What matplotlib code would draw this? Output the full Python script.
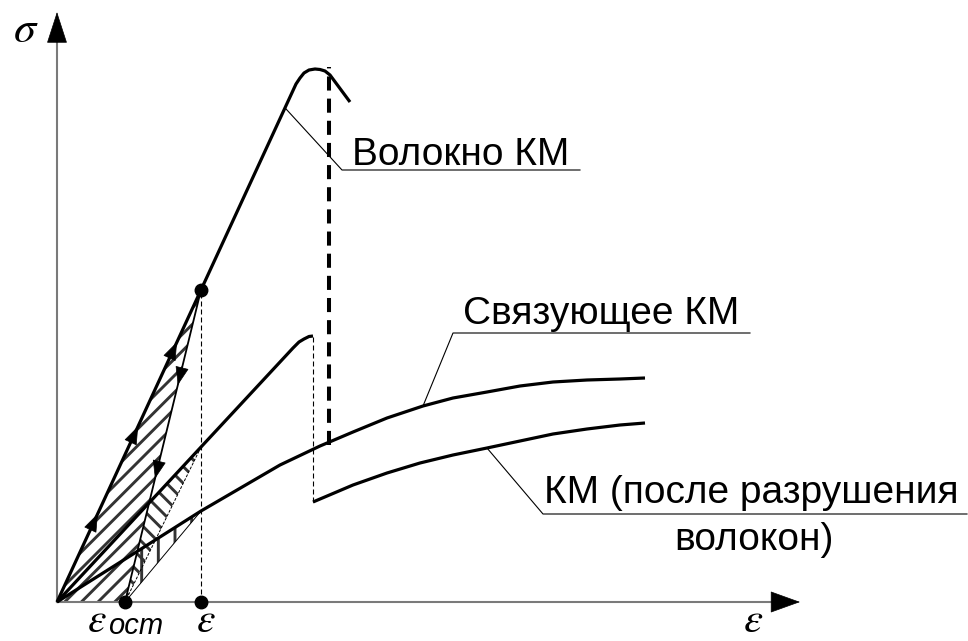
import numpy as np
import matplotlib.pyplot as plt

plt.rcParams['font.family'] = ['Liberation Sans', 'DejaVu Sans']
plt.rcParams['mathtext.fontset'] = 'stix'
plt.rcParams['hatch.linewidth'] = 2.1

# Волокно: упругий участок и вершина
fiber_eps = [0.0, 2.39, 2.43, 2.47, 2.52, 2.58, 2.63, 2.68, 2.73, 2.93]
fiber_sig = [0.0, 5.18, 5.24, 5.29, 5.32, 5.33, 5.325, 5.31, 5.27, 5.00]

# КМ до разрушения волокон
comp_eps = [0.0, 2.23, 2.36, 2.42, 2.47, 2.52, 2.56]
comp_sig = [0.0, 2.40, 2.54, 2.60, 2.63, 2.655, 2.66]

# Связующее
matrix_eps = [0.0, 0.73, 1.44, 2.23, 2.63, 2.96, 3.30, 3.66, 3.96, 4.30, 4.63, 4.96, 5.30, 5.63, 5.88]
matrix_sig = [0.0, 0.46, 0.91, 1.37, 1.56, 1.70, 1.84, 1.96, 2.04, 2.10, 2.16, 2.20, 2.22, 2.23, 2.24]

# КМ после разрушения волокон
broken_eps = [2.56, 2.96, 3.30, 3.63, 3.96, 4.30, 4.63, 4.96, 5.30, 5.63, 5.88]
broken_sig = [1.00, 1.17, 1.29, 1.39, 1.47, 1.54, 1.61, 1.68, 1.73, 1.77, 1.79]

eps_load = 1.44      # деформация точки разгрузки
eps_res = 0.68       # остаточная деформация
eps_fiber_break = 2.72
sig_fiber_break = (1.57, 5.35)

def on_curve(xs, ys, x):
    return float(np.interp(x, xs, ys))

def cross(p0, p1, k):
    # пересечение отрезка p0-p1 с прямой sigma = k * eps
    (x0, y0), (x1, y1) = p0, p1
    t = (k * x0 - y0) / ((y1 - y0) - k * (x1 - x0))
    return (x0 + t * (x1 - x0), y0 + t * (y1 - y0))

def mark_arrow(ax, p0, p1, frac, length=0.16):
    p0, p1 = np.array(p0), np.array(p1)
    d = (p1 - p0) / np.hypot(*(p1 - p0))
    c = p0 + frac * (p1 - p0)
    ax.annotate('', xy=c + d * length / 2, xytext=c - d * length / 2,
                arrowprops=dict(arrowstyle='-|>,head_length=12,head_width=4.4',
                                mutation_scale=1, color='black', lw=0.5,
                                shrinkA=0, shrinkB=0))

fig = plt.figure(figsize=(9.68, 6.41), dpi=100)
ax = fig.add_axes([0, 0, 1, 1])
ax.set_xlim(-0.57, 9.11)
ax.set_ylim(-0.39, 6.02)
ax.axis('off')

p_fiber = (eps_load, on_curve(fiber_eps, fiber_sig, eps_load))
p_comp = (eps_load, on_curve(comp_eps, comp_sig, eps_load))
p_matr = (eps_load, on_curve(matrix_eps, matrix_sig, eps_load))
p_res = (eps_res, 0.0)

# штриховка петель
k_comp = comp_sig[1] / comp_eps[1]
k_matr = matrix_sig[1] / matrix_eps[1]
hatch_col = '#333333'
ax.fill([0, p_fiber[0], p_res[0]], [0, p_fiber[1], 0], facecolor='none',
        edgecolor=hatch_col, lw=0, hatch='//')
c2 = cross(p_res, p_fiber, k_comp)
ax.fill([p_res[0], c2[0], p_comp[0]], [0, c2[1], p_comp[1]], facecolor='none',
        edgecolor=hatch_col, lw=0, hatch='\\\\')
c3 = cross(p_res, p_fiber, k_matr)
ax.fill([p_res[0], c3[0], p_matr[0]], [0, c3[1], p_matr[1]], facecolor='none',
        edgecolor=hatch_col, lw=0, hatch='|')

# оси
ax.plot([0, 0], [0, 5.62], color='#7a7a7a', lw=1.5)
ax.plot([0, 7.17], [0, 0], color='#7a7a7a', lw=1.5)
ax.annotate('', xy=(0, 5.90), xytext=(0, 5.60),
            arrowprops=dict(arrowstyle='-|>,head_length=21,head_width=6.8',
                            mutation_scale=1, color='black', lw=0.5, shrinkA=0, shrinkB=0))
ax.annotate('', xy=(7.43, 0), xytext=(7.15, 0),
            arrowprops=dict(arrowstyle='-|>,head_length=20,head_width=7.2',
                            mutation_scale=1, color='black', lw=0.5, shrinkA=0, shrinkB=0))

# вспомогательные пунктиры
ax.plot([eps_load, eps_load], [0, p_fiber[1]], color='black', lw=0.8, dashes=(4.5, 2.7))
ax.plot([comp_eps[-1], comp_eps[-1]], [broken_sig[0], comp_sig[-1]], color='black',
        lw=0.8, dashes=(4.5, 2.7))
ax.plot([eps_fiber_break, eps_fiber_break], sig_fiber_break, color='black', lw=2.9,
        dashes=(3.5, 2.0))

# линии разгрузки
ax.plot([p_fiber[0], p_res[0]], [p_fiber[1], 0], color='black', lw=1.3)
ax.plot([p_comp[0], p_res[0]], [p_comp[1], 0], color='black', lw=0.7, dashes=(3, 1.5))
ax.plot([p_matr[0], p_res[0]], [p_matr[1], 0], color='black', lw=0.7)

# основные кривые
for xs, ys in [(fiber_eps, fiber_sig), (comp_eps, comp_sig),
               (matrix_eps, matrix_sig), (broken_eps, broken_sig)]:
    ax.plot(xs, ys, color='black', lw=2.3, solid_joinstyle='round', solid_capstyle='butt')

# стрелки нагрузки/разгрузки
for f in (0.26, 0.54, 0.81):
    mark_arrow(ax, (0, 0), p_fiber, f)
for f in (0.28, 0.58):
    mark_arrow(ax, p_fiber, p_res, f)

ax.plot([p_fiber[0], p_res[0], eps_load], [p_fiber[1], 0, 0], 'o', color='black', ms=9)

# выноски и подписи
lead_kw = dict(color='black', lw=0.8)
e = 2.28
ax.plot([e, 2.85, 5.23], [on_curve(fiber_eps, fiber_sig, e), 4.32, 4.32], **lead_kw)
ax.text(2.95, 4.37, 'Волокно КМ', fontsize=28, ha='left', va='baseline')

e = 3.66
ax.plot([e, 3.96, 6.93], [on_curve(matrix_eps, matrix_sig, e), 2.69, 2.69], **lead_kw)
ax.text(4.06, 2.78, 'Связующее КМ', fontsize=28, ha='left', va='baseline')

e = 4.30
ax.plot([e, 4.86, 9.10], [on_curve(broken_eps, broken_sig, e), 0.88, 0.88], **lead_kw)
ax.text(4.87, 0.99, 'КМ (после разрушения', fontsize=28, ha='left', va='baseline')
ax.text(6.97, 0.52, 'волокон)', fontsize=28, ha='center', va='baseline')

ax.text(-0.31, 5.71, r'$\sigma$', fontsize=32, ha='center', va='center')
ax.text(6.96, -0.385, r'$\varepsilon$', fontsize=31, ha='center', va='bottom')
ax.text(eps_load + 0.05, -0.385, r'$\varepsilon$', fontsize=30, ha='center', va='bottom')
ax.text(0.40, -0.385, r'$\varepsilon$', fontsize=30, ha='center', va='bottom')
ax.text(0.79, -0.385, 'ост', fontsize=21, style='italic', ha='center', va='bottom')

fig.savefig('out.png', dpi=100)
